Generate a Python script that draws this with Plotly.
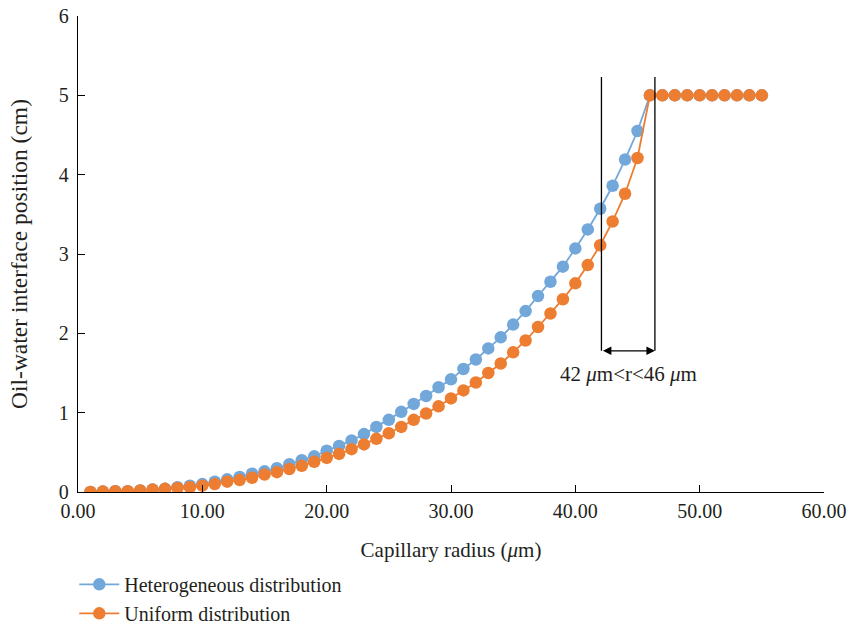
import plotly.graph_objects as go

radius = list(range(1, 56))

heterogeneous = [0.0, 0.005, 0.01, 0.01, 0.02, 0.03, 0.04, 0.06, 0.08, 0.10,
                 0.13, 0.16, 0.19, 0.23, 0.26, 0.30, 0.35, 0.40, 0.45, 0.52,
                 0.58, 0.65, 0.73, 0.82, 0.91, 1.01, 1.11, 1.21, 1.32, 1.42,
                 1.55, 1.67, 1.81, 1.95, 2.11, 2.28, 2.47, 2.65, 2.84, 3.07,
                 3.31, 3.57, 3.86, 4.19, 4.55, 5.0, 5.0, 5.0, 5.0, 5.0,
                 5.0, 5.0, 5.0, 5.0, 5.0]

uniform = [0.0, 0.005, 0.01, 0.01, 0.02, 0.03, 0.04, 0.05, 0.06, 0.08,
           0.10, 0.13, 0.15, 0.18, 0.22, 0.25, 0.29, 0.33, 0.38, 0.43,
           0.48, 0.54, 0.60, 0.67, 0.74, 0.82, 0.91, 0.99, 1.08, 1.18,
           1.28, 1.38, 1.50, 1.62, 1.76, 1.91, 2.08, 2.25, 2.43, 2.63,
           2.86, 3.11, 3.41, 3.76, 4.21, 5.0, 5.0, 5.0, 5.0, 5.0,
           5.0, 5.0, 5.0, 5.0, 5.0]

x_ticks = [0, 10, 20, 30, 40, 50, 60]
y_ticks = [0, 1, 2, 3, 4, 5, 6]

range_low, range_high = 42.1, 46.4
range_top, range_arrow = 5.23, 1.78
range_label = "42 <i>μ</i>m&lt;r&lt;46 <i>μ</i>m"

BLUE = "#72A7DA"
ORANGE = "#ED7D31"
FONT = "Liberation Serif"
TXT = "#231F20"

fig = go.Figure()
fig.add_trace(go.Scatter(x=radius, y=heterogeneous, mode="lines+markers",
                         name="Heterogeneous distribution",
                         line=dict(color=BLUE, width=1.8),
                         marker=dict(color=BLUE, size=12.5)))
fig.add_trace(go.Scatter(x=radius, y=uniform, mode="lines+markers",
                         name="Uniform distribution",
                         line=dict(color=ORANGE, width=1.8),
                         marker=dict(color=ORANGE, size=12.5)))

for xv in (range_low, range_high):
    fig.add_shape(type="line", x0=xv, x1=xv, y0=range_arrow, y1=range_top,
                  xref="x", yref="y", line=dict(color="black", width=1.3))

fig.add_annotation(x=range_high, y=range_arrow, ax=range_low, ay=range_arrow,
                   xref="x", yref="y", axref="x", ayref="y", text="",
                   showarrow=True, arrowhead=2, arrowside="end+start",
                   arrowsize=1.3, arrowwidth=1.3, arrowcolor="black",
                   startarrowhead=2, startarrowsize=1.3)
fig.add_annotation(x=(range_low + range_high) / 2, y=range_arrow, yshift=-23,
                   xref="x", yref="y", text=range_label, showarrow=False,
                   font=dict(family=FONT, size=21, color=TXT))

fig.update_layout(
    width=850, height=627,
    margin=dict(l=78, r=26, t=16, b=135, autoexpand=False),
    plot_bgcolor="white", paper_bgcolor="white",
    font=dict(family=FONT, size=20, color=TXT),
    showlegend=True,
    legend=dict(x=-0.005, xanchor="left", y=-0.153, yanchor="top",
                font=dict(family=FONT, size=20, color=TXT),
                tracegroupgap=0, itemwidth=40, bgcolor="rgba(0,0,0,0)"),
    xaxis=dict(range=[0, 60], tickvals=x_ticks,
               ticktext=[f"{v:.2f}" for v in x_ticks],
               showgrid=False, zeroline=False, showline=True,
               linecolor="black", linewidth=1.3, ticks="inside",
               ticklen=7, tickcolor="black", ticklabelstandoff=1,
               title=dict(text="Capillary radius (<i>μ</i>m)", standoff=21,
                          font=dict(family=FONT, size=21, color=TXT)),
               tickfont=dict(family=FONT, size=20, color=TXT)),
    yaxis=dict(range=[0, 6], tickvals=y_ticks,
               showgrid=False, zeroline=False, showline=True,
               linecolor="black", linewidth=1.3, ticks="inside",
               ticklen=7, tickcolor="black", ticklabelstandoff=4,
               title=dict(text="Oil-water interface position (cm)", standoff=24,
                          font=dict(family=FONT, size=23.5, color=TXT)),
               tickfont=dict(family=FONT, size=20, color=TXT)),
)

fig.write_html("out.html")
